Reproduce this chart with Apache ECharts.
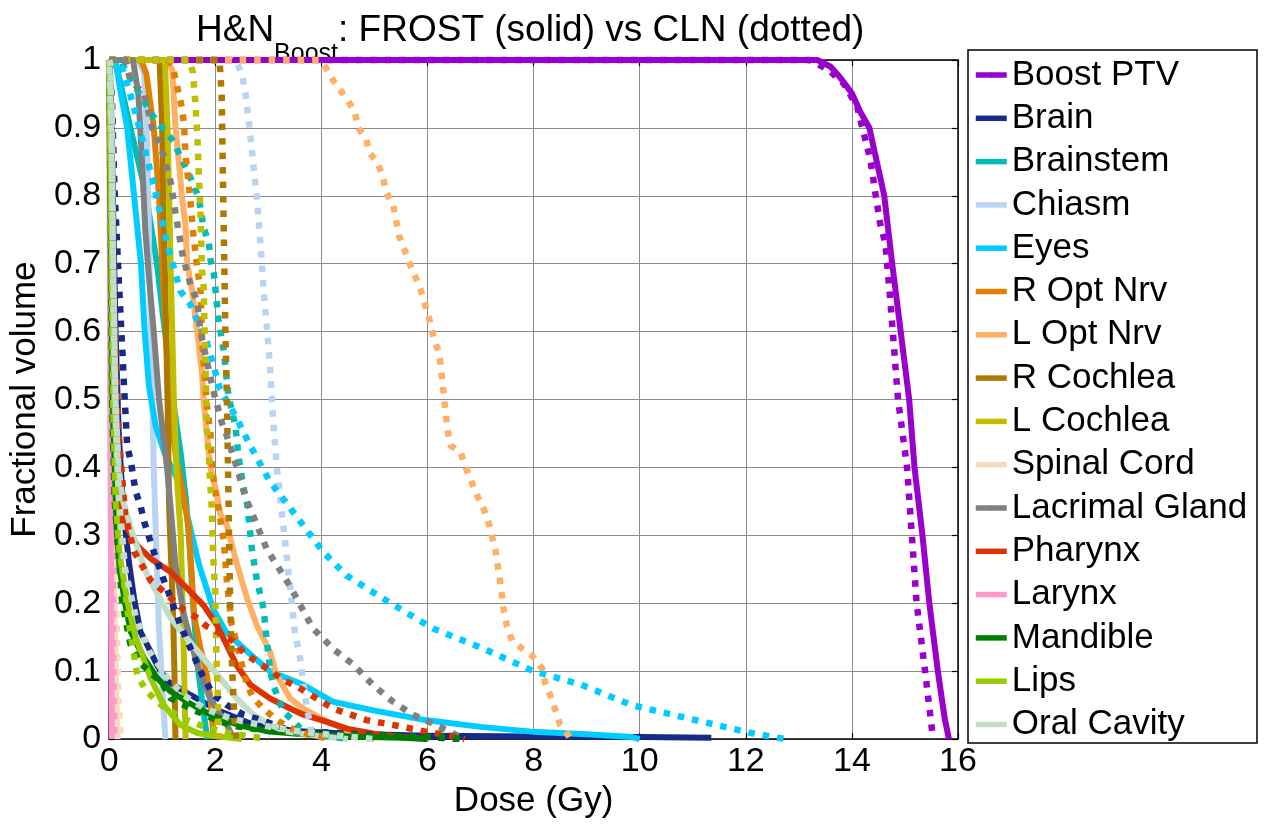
<!DOCTYPE html>
<html><head><meta charset="utf-8">
<script src="https://cdn.jsdelivr.net/npm/echarts@6/dist/echarts.min.js"></script>
<style>html,body{margin:0;padding:0;background:#fff}#c{width:1264px;height:824px}</style>
</head><body><div id="c"></div>
<script>
const structures = ['Boost PTV','Brain','Brainstem','Chiasm','Eyes','R Opt Nrv','L Opt Nrv','R Cochlea','L Cochlea','Spinal Cord','Lacrimal Gland','Pharynx','Larynx','Mandible','Lips','Oral Cavity'];
const xTicks = [0,2,4,6,8,10,12,14,16];
const yTicks = [0,0.1,0.2,0.3,0.4,0.5,0.6,0.7,0.8,0.9,1];

// FROST (solid) DVH curves: [dose Gy, fractional volume]
const frostBoostPTV = [[0,1],[13.35,1],[13.6,0.99],[13.79,0.973],[14.0,0.951],[14.15,0.925],[14.33,0.9],[14.47,0.85],[14.61,0.8],[14.76,0.7],[14.92,0.6],[15.08,0.5],[15.18,0.4],[15.33,0.3],[15.46,0.2],[15.62,0.1],[15.75,0.03],[15.83,0]];
const frostBrain = [[0,1],[0.03,0.95],[0.07,0.8],[0.12,0.6],[0.18,0.45],[0.25,0.36],[0.31,0.305],[0.38,0.256],[0.47,0.207],[0.59,0.158],[0.78,0.129],[0.9,0.109],[1.1,0.085],[1.53,0.065],[2.09,0.041],[2.72,0.021],[3.5,0.012],[4.5,0.008],[6,0.005],[8,0.004],[10,0.003],[11.35,0.002]];
const frostBrainstem = [[0,1],[0.1,1],[0.2,0.97],[0.4,0.9],[0.7,0.8],[0.9,0.7],[1.05,0.6],[1.2,0.5],[1.35,0.42],[1.45,0.35],[1.52,0.28],[1.58,0.2],[1.68,0.1],[1.78,0.04],[1.85,0]];
const frostChiasm = [[0,1],[0.55,1],[0.66,0.98],[0.72,0.87],[0.76,0.7],[0.8,0.55],[0.84,0.4],[0.88,0.3],[0.94,0.16],[1.0,0.08],[1.06,0]];
const frostEyes = [[0,1],[0.12,1],[0.2,0.96],[0.34,0.9],[0.47,0.8],[0.6,0.7],[0.67,0.6],[0.75,0.52],[0.88,0.46],[1.05,0.42],[1.3,0.38],[1.5,0.32],[1.7,0.255],[1.97,0.19],[2.2,0.158],[2.6,0.129],[3.03,0.1],[3.66,0.08],[4.22,0.055],[5,0.042],[5.96,0.028],[7,0.018],[7.97,0.011],[9,0.007],[9.85,0.003],[10,0]];
const frostROptNrv = [[0,1],[0.6,1],[0.7,0.98],[0.84,0.9],[0.94,0.8],[1.0,0.7],[1.08,0.58],[1.15,0.48],[1.25,0.42],[1.4,0.36],[1.5,0.31],[1.55,0.25],[1.6,0.183],[1.72,0.134],[1.84,0.094],[1.91,0.06],[1.97,0]];
const frostLOptNrv = [[0,1],[1.1,1],[1.19,0.985],[1.25,0.9],[1.31,0.853],[1.37,0.8],[1.44,0.755],[1.47,0.7],[1.56,0.662],[1.66,0.6],[1.75,0.54],[1.78,0.5],[1.84,0.45],[1.91,0.4],[2.03,0.36],[2.1,0.33],[2.22,0.315],[2.4,0.26],[2.6,0.207],[2.78,0.168],[3.03,0.129],[3.16,0.094],[3.41,0.06],[3.66,0.045],[4.0,0.03],[4.5,0.012],[5,0]];
const frostRCochlea = [[0,1],[0.95,1],[1.0,0.9],[1.03,0.75],[1.06,0.66],[1.1,0.5],[1.13,0.34],[1.2,0.2],[1.23,0.1],[1.25,0]];
const frostLCochlea = [[0,1],[1.05,1],[1.1,0.9],[1.17,0.66],[1.22,0.5],[1.28,0.38],[1.35,0.3],[1.4,0.15],[1.44,0]];
const frostSpinalCord = [[0,1],[0.03,0.9],[0.06,0.5],[0.1,0.2],[0.14,0.05],[0.16,0]];
const frostLacrimal = [[0,1],[0.45,1],[0.55,0.95],[0.62,0.85],[0.68,0.75],[0.75,0.68],[0.84,0.6],[0.94,0.5],[1.09,0.4],[1.16,0.34],[1.25,0.256],[1.41,0.183],[1.66,0.109],[1.9,0.06],[2.22,0.021],[2.35,0]];
const frostPharynx = [[0,1],[0.05,0.8],[0.1,0.5],[0.15,0.36],[0.25,0.32],[0.35,0.31],[0.53,0.285],[0.78,0.266],[1.16,0.246],[1.47,0.222],[1.78,0.197],[2.03,0.168],[2.22,0.138],[2.4,0.109],[2.66,0.08],[3.03,0.06],[3.41,0.045],[3.66,0.036],[4.0,0.028],[4.5,0.015],[5,0.008],[5.5,0.003],[6,0]];
const frostLarynx = [[0,1],[0.02,0.5],[0.05,0]];
const frostMandible = [[0,1],[0.02,0.8],[0.05,0.5],[0.1,0.35],[0.2,0.25],[0.3,0.2],[0.41,0.158],[0.66,0.119],[0.9,0.09],[1.16,0.07],[1.47,0.055],[1.78,0.041],[2.16,0.028],[2.53,0.019],[3.03,0.011],[3.66,0.007],[4.5,0.004],[5.5,0.002],[6,0]];
const frostLips = [[0,1],[0.03,0.8],[0.07,0.5],[0.12,0.35],[0.2,0.27],[0.35,0.2],[0.5,0.15],[0.78,0.09],[1.03,0.05],[1.34,0.021],[1.66,0.009],[2.03,0.004],[2.5,0]];
const frostOralCavity = [[0,1],[0.04,0.9],[0.08,0.7],[0.12,0.5],[0.18,0.4],[0.25,0.354],[0.45,0.3],[0.72,0.241],[1.16,0.178],[1.47,0.148],[1.78,0.119],[2.09,0.09],[2.4,0.06],[2.72,0.036],[3.03,0.021],[3.34,0.011],[4,0.004],[4.5,0]];

// CLN (dotted) DVH curves
const clnBoostPTV = [[0,1],[13.2,1],[13.55,0.986],[13.85,0.965],[14.1,0.931],[14.22,0.893],[14.35,0.853],[14.44,0.805],[14.53,0.76],[14.63,0.73],[14.72,0.65],[14.8,0.57],[14.87,0.5],[15.04,0.4],[15.13,0.3],[15.22,0.2],[15.38,0.1],[15.47,0.04],[15.53,0]];
const clnBrain = [[0,1],[0.05,0.95],[0.1,0.81],[0.19,0.662],[0.22,0.614],[0.25,0.57],[0.28,0.52],[0.31,0.476],[0.34,0.432],[0.41,0.408],[0.5,0.364],[0.59,0.344],[0.66,0.32],[0.75,0.298],[0.84,0.276],[1.03,0.234],[1.16,0.207],[1.34,0.168],[1.56,0.129],[1.78,0.09],[1.97,0.065],[2.22,0.05],[2.53,0.036],[2.91,0.027],[3.28,0.016],[4,0.01],[5,0.006],[6,0.003],[6.7,0]];
const clnBrainstem = [[0,1],[0.2,1],[0.5,0.96],[0.8,0.92],[1.03,0.897],[1.22,0.88],[1.34,0.858],[1.47,0.838],[1.59,0.816],[1.69,0.797],[1.78,0.753],[1.88,0.731],[1.91,0.706],[1.97,0.687],[2.0,0.665],[2.06,0.618],[2.16,0.571],[2.25,0.505],[2.38,0.461],[2.44,0.415],[2.53,0.371],[2.6,0.347],[2.69,0.28],[2.78,0.236],[2.91,0.192],[2.97,0.146],[3.03,0.104],[3.09,0.08],[3.19,0.06],[3.28,0.041],[3.47,0.027],[3.6,0.016],[4.0,0.006],[4.5,0]];
const clnChiasm = [[0,1],[2.3,1],[2.41,0.996],[2.5,0.98],[2.56,0.956],[2.63,0.912],[2.72,0.843],[2.78,0.8],[2.85,0.731],[2.91,0.662],[2.98,0.6],[3.03,0.55],[3.09,0.47],[3.16,0.4],[3.22,0.358],[3.31,0.295],[3.38,0.246],[3.44,0.203],[3.5,0.158],[3.6,0.119],[3.66,0.08],[3.72,0.05],[3.8,0.015],[3.85,0]];
const clnEyes = [[0,1],[0.1,1],[0.24,0.99],[0.47,0.93],[0.83,0.82],[1.09,0.73],[1.34,0.66],[1.53,0.64],[1.84,0.585],[2.09,0.515],[2.38,0.476],[2.66,0.432],[3.03,0.379],[3.28,0.354],[4.03,0.276],[4.47,0.241],[5.16,0.207],[6.1,0.163],[7.03,0.134],[7.97,0.101],[8.9,0.08],[9.85,0.05],[11.16,0.026],[12.1,0.009],[12.75,0]];
const clnROptNrv = [[0,1],[1.1,1],[1.19,0.993],[1.31,0.951],[1.37,0.93],[1.41,0.907],[1.44,0.86],[1.47,0.838],[1.53,0.794],[1.58,0.748],[1.67,0.687],[1.72,0.667],[1.75,0.589],[1.78,0.557],[1.84,0.493],[1.91,0.449],[1.93,0.408],[2.0,0.364],[2.06,0.339],[2.16,0.293],[2.22,0.232],[2.31,0.168],[2.38,0.148],[2.5,0.11],[2.6,0.08],[2.72,0.06],[2.91,0.045],[3.16,0.028],[3.41,0.016],[3.8,0.006],[4.2,0]];
const clnLOptNrv = [[0,1],[3.95,1],[4.03,0.996],[4.18,0.975],[4.31,0.96],[4.47,0.944],[4.63,0.924],[4.69,0.9],[4.84,0.885],[4.91,0.863],[5.06,0.849],[5.16,0.827],[5.22,0.805],[5.35,0.787],[5.47,0.74],[5.66,0.701],[5.87,0.662],[6.03,0.62],[6.1,0.596],[6.19,0.574],[6.25,0.552],[6.31,0.505],[6.38,0.454],[6.44,0.432],[6.62,0.423],[6.72,0.4],[6.94,0.358],[7.06,0.339],[7.16,0.317],[7.28,0.278],[7.37,0.232],[7.44,0.188],[7.5,0.166],[7.6,0.144],[7.97,0.123],[8.16,0.104],[8.22,0.082],[8.31,0.065],[8.41,0.043],[8.5,0.021],[8.66,0.005],[8.7,0]];
const clnRCochlea = [[0,1],[2.08,1],[2.12,0.95],[2.15,0.8],[2.19,0.6],[2.22,0.5],[2.25,0.35],[2.28,0.2],[2.32,0.1],[2.36,0.03],[2.4,0]];
const clnLCochlea = [[0,1],[1.5,1],[1.58,0.982],[1.63,0.93],[1.66,0.893],[1.69,0.83],[1.72,0.777],[1.75,0.69],[1.78,0.667],[1.81,0.571],[1.84,0.461],[1.88,0.413],[1.93,0.344],[1.97,0.256],[2.0,0.217],[2.01,0.168],[2.03,0.1],[2.05,0.06],[2.06,0.011],[2.07,0]];
const clnSpinalCord = [[0,1],[0.05,0.9],[0.08,0.5],[0.13,0.2],[0.18,0.05],[0.22,0]];
const clnLacrimal = [[0,1],[0.3,1],[0.4,0.97],[0.66,0.95],[0.81,0.9],[1.0,0.865],[1.16,0.82],[1.25,0.775],[1.39,0.71],[1.54,0.667],[1.66,0.645],[1.72,0.6],[1.84,0.557],[1.97,0.511],[2.12,0.467],[2.22,0.446],[2.4,0.402],[2.56,0.358],[2.97,0.28],[3.41,0.225],[3.84,0.163],[4.25,0.131],[4.6,0.11],[4.97,0.08],[5.35,0.055],[5.72,0.036],[6.1,0.023],[6.41,0.011],[6.7,0]];
const clnPharynx = [[0,1],[0.05,0.8],[0.1,0.6],[0.18,0.45],[0.3,0.33],[0.47,0.276],[0.78,0.234],[1.0,0.219],[1.41,0.19],[1.63,0.18],[1.84,0.166],[2.09,0.156],[2.34,0.144],[2.56,0.126],[2.78,0.114],[3.03,0.101],[3.28,0.087],[3.53,0.078],[4.22,0.045],[4.85,0.028],[5.47,0.019],[5.97,0.011],[6.5,0.004],[6.7,0]];
const clnLarynx = [[0,1],[0.05,0.5],[0.08,0.1],[0.1,0]];
const clnMandible = [[0,1],[0.03,0.8],[0.07,0.5],[0.15,0.3],[0.25,0.2],[0.4,0.14],[0.56,0.114],[1.0,0.082],[1.16,0.06],[1.59,0.043],[2.09,0.026],[2.4,0.019],[3,0.012],[4,0.008],[5,0.005],[6.3,0.003],[6.7,0]];
const clnLips = [[0,1],[0.04,0.8],[0.1,0.5],[0.19,0.34],[0.25,0.25],[0.38,0.168],[0.53,0.094],[0.69,0.072],[0.88,0.057],[1.06,0.045],[1.4,0.03],[1.8,0.018],[2.3,0.008],[3,0]];
const clnOralCavity = [[0,1],[0.03,0.99],[0.05,0.9],[0.07,0.7],[0.1,0.55],[0.15,0.42],[0.19,0.35],[0.3,0.25],[0.5,0.18],[0.75,0.13],[1.1,0.09],[1.4,0.065],[1.8,0.045],[2.3,0.03],[2.9,0.02],[3.5,0.012],[4.2,0.006],[5,0]];

const frostCurves = [frostBoostPTV,frostBrain,frostBrainstem,frostChiasm,frostEyes,frostROptNrv,frostLOptNrv,frostRCochlea,frostLCochlea,frostSpinalCord,frostLacrimal,frostPharynx,frostLarynx,frostMandible,frostLips,frostOralCavity];
const clnCurves = [clnBoostPTV,clnBrain,clnBrainstem,clnChiasm,clnEyes,clnROptNrv,clnLOptNrv,clnRCochlea,clnLCochlea,clnSpinalCord,clnLacrimal,clnPharynx,clnLarynx,clnMandible,clnLips,clnOralCavity];

const palette = ['#9900CC','#172A8A','#00BDB7','#B8D4F2','#00CCFF','#E07F00','#FFB066','#B07800','#BFBF00','#F2DDBF','#808080','#DD3300','#FF99CC','#008000','#99CC00','#C2DEC8'];

const FONT = '"Liberation Sans", Arial, sans-serif';
const chart = echarts.init(document.getElementById('c'), null, {renderer:'canvas'});

const series = [];
structures.forEach((n,i)=>{
  series.push({name:n, type:'line', data:frostCurves[i], showSymbol:false, symbol:'none', clip:false, silent:true,
    lineStyle:{color:palette[i], width:6, type:'solid', cap:'butt', join:'round'}, itemStyle:{color:palette[i]}});
});
structures.forEach((n,i)=>{
  series.push({name:n+' (CLN)', type:'line', data:clnCurves[i], showSymbol:false, symbol:'none', clip:false, silent:true,
    lineStyle:{color:palette[i], width:6.5, type:[6.5,8], cap:'butt', join:'miter'}, itemStyle:{color:palette[i]}});
});

// title measurement
const cv = document.createElement('canvas').getContext('2d');
function tw(t, s){ cv.font = s+'px "Liberation Sans"'; return cv.measureText(t).width; }
const tMain = 37, tSub = 25, tx0 = 196;
const w1 = tw('H&N', tMain), w2 = tw('Boost', tSub);

const axisCommon = {
  min:0, axisLine:{show:true, onZero:false, lineStyle:{color:'#000', width:1.5}},
  axisTick:{show:true, inside:true, length:6, lineStyle:{color:'#000', width:1.2}},
};

chart.setOption({
  animation:false,
  backgroundColor:'#fff',
  grid:{left:105, top:60, right:306, bottom:83, containLabel:false},
  xAxis:[
    Object.assign({}, axisCommon, {type:'value', position:'bottom', max:16, interval:2,
      axisLabel:{show:true, fontSize:34, fontFamily:FONT, color:'#000', margin:6},
      splitLine:{show:true, lineStyle:{color:'#8c8c8c', width:1}},
      name:'Dose (Gy)', nameLocation:'middle', nameGap:40,
      nameTextStyle:{fontSize:35, fontFamily:FONT, color:'#000'}}),
    Object.assign({}, axisCommon, {type:'value', position:'top', max:16, interval:2,
      axisLabel:{show:false}, splitLine:{show:false}})
  ],
  yAxis:[
    Object.assign({}, axisCommon, {type:'value', position:'left', max:1, interval:0.1,
      axisLabel:{show:true, fontSize:34, fontFamily:FONT, color:'#000', margin:8,
        formatter:v=>String(Math.round(v*10)/10)},
      splitLine:{show:true, lineStyle:{color:'#8c8c8c', width:1}},
      name:'Fractional volume', nameLocation:'middle', nameGap:56, nameRotate:90,
      nameTextStyle:{fontSize:35, fontFamily:FONT, color:'#000'}}),
    Object.assign({}, axisCommon, {type:'value', position:'right', max:1, interval:0.1,
      axisLabel:{show:false}, splitLine:{show:false}})
  ],
  legend:{
    orient:'vertical', left:973, top:55, padding:0, itemGap:3.3, itemWidth:31, itemHeight:6,
    data:structures, selectedMode:false,
    lineStyle:{width:5.5},
    textStyle:{fontSize:35, fontFamily:FONT, color:'#000', lineHeight:40}
  },
  graphic:[
    {type:'rect', shape:{x:968, y:50, width:289, height:693}, style:{fill:'none', stroke:'#000', lineWidth:1.5}, z:-1, silent:true},
    {type:'text', x:tx0, y:30.5, style:{text:'H&N', font:tMain+'px "Liberation Sans"', fill:'#000', verticalAlign:'middle', align:'left'}},
    {type:'text', x:tx0+w1, y:54, style:{text:'Boost', font:tSub+'px "Liberation Sans"', fill:'#000', verticalAlign:'middle', align:'left'}},
    {type:'text', x:tx0+w1+w2, y:30.5, style:{text:': FROST (solid) vs CLN (dotted)', font:tMain+'px "Liberation Sans"', fill:'#000', verticalAlign:'middle', align:'left'}}
  ],
  series: series
});
</script></body></html>
